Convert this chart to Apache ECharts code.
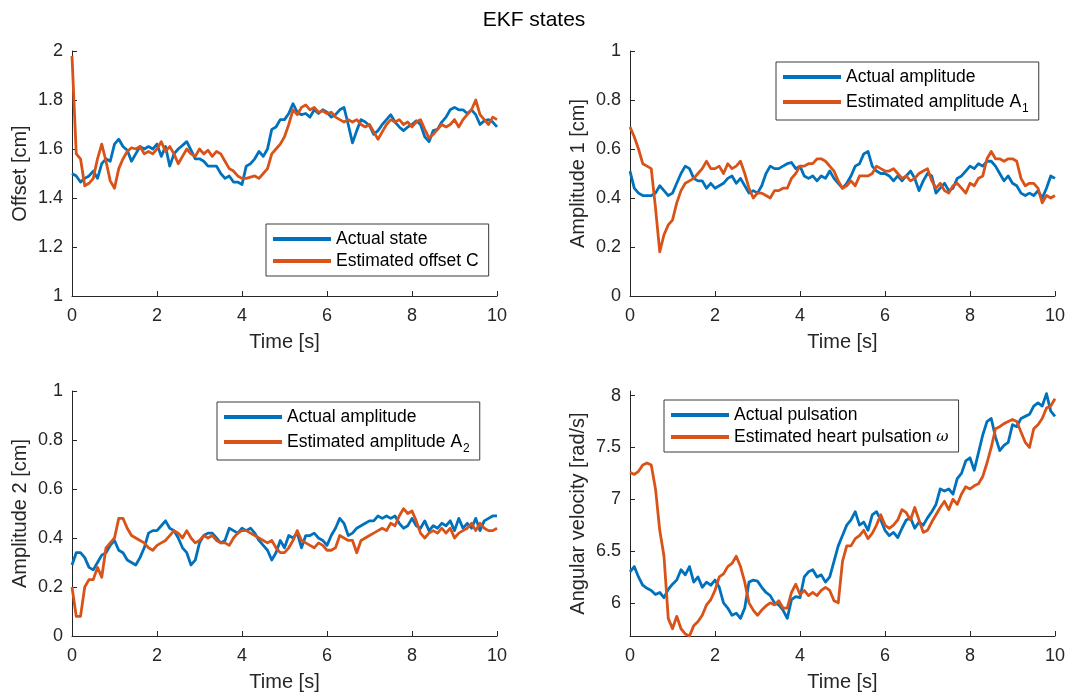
<!DOCTYPE html>
<html>
<head>
<meta charset="utf-8">
<title>EKF states</title>
<script src="https://cdn.jsdelivr.net/npm/echarts@6/dist/echarts.min.js"></script>
<style>
  html, body { margin: 0; padding: 0; background: #fff; }
  #chart { width: 1068px; height: 700px; }
</style>
</head>
<body>
<div id="chart"></div>
<script>
// Sampling instants (s), 0 to 10 s every 0.1 s
const time = [];
for (let i = 0; i <= 100; i++) time.push(i / 10);

// Offset C [cm]
const offsetActual = [
  1.50, 1.49, 1.465, 1.48, 1.49, 1.51, 1.48, 1.54, 1.56, 1.55,
  1.62, 1.64, 1.61, 1.595, 1.55, 1.58, 1.61, 1.60, 1.61, 1.60,
  1.62, 1.57, 1.61, 1.53, 1.58, 1.60, 1.615, 1.63, 1.595, 1.56,
  1.56, 1.55, 1.53, 1.53, 1.53, 1.50, 1.48, 1.49, 1.465, 1.465,
  1.455, 1.53, 1.54, 1.56, 1.59, 1.57, 1.60, 1.68, 1.69, 1.72,
  1.72, 1.745, 1.785, 1.75, 1.74, 1.745, 1.73, 1.76, 1.745, 1.76,
  1.75, 1.73, 1.74, 1.76, 1.77, 1.70, 1.625, 1.675, 1.72, 1.71,
  1.695, 1.66, 1.675, 1.70, 1.72, 1.74, 1.71, 1.69, 1.675, 1.69,
  1.70, 1.715, 1.70, 1.65, 1.63, 1.675, 1.68, 1.71, 1.73, 1.76,
  1.77, 1.76, 1.76, 1.745, 1.76, 1.74, 1.70, 1.715, 1.72, 1.71,
  1.69
];
const offsetEstimate = [
  1.98, 1.58, 1.56, 1.45, 1.46, 1.48, 1.56, 1.62, 1.55, 1.47,
  1.44, 1.52, 1.56, 1.59, 1.605, 1.60, 1.61, 1.58, 1.59, 1.58,
  1.60, 1.63, 1.59, 1.61, 1.58, 1.54, 1.57, 1.60, 1.58, 1.57,
  1.60, 1.58, 1.595, 1.57, 1.59, 1.58, 1.55, 1.52, 1.51, 1.49,
  1.48, 1.48, 1.485, 1.49, 1.48, 1.50, 1.52, 1.58, 1.60, 1.62,
  1.65, 1.70, 1.76, 1.74, 1.77, 1.78, 1.76, 1.77, 1.75, 1.755,
  1.745, 1.75, 1.73, 1.72, 1.71, 1.72, 1.71, 1.72, 1.70, 1.69,
  1.70, 1.67, 1.64, 1.67, 1.70, 1.72, 1.71, 1.72, 1.70, 1.71,
  1.69, 1.71, 1.72, 1.68, 1.645, 1.66, 1.68, 1.70, 1.69, 1.70,
  1.72, 1.69, 1.72, 1.74, 1.76, 1.80, 1.74, 1.72, 1.70, 1.73,
  1.72
];

// Amplitude A1 [cm]
const amp1Actual = [
  0.51, 0.44, 0.42, 0.41, 0.41, 0.41, 0.42, 0.45, 0.43, 0.41,
  0.42, 0.46, 0.50, 0.53, 0.52, 0.48, 0.47, 0.47, 0.44, 0.46,
  0.44, 0.45, 0.46, 0.48, 0.49, 0.46, 0.48, 0.45, 0.42, 0.43,
  0.42, 0.45, 0.50, 0.53, 0.52, 0.52, 0.53, 0.54, 0.545, 0.52,
  0.53, 0.49, 0.48, 0.49, 0.47, 0.49, 0.48, 0.51, 0.48, 0.46,
  0.44, 0.46, 0.49, 0.53, 0.54, 0.58, 0.59, 0.53, 0.51, 0.50,
  0.50, 0.49, 0.47, 0.49, 0.47, 0.49, 0.51, 0.48, 0.43, 0.47,
  0.50, 0.49, 0.42, 0.44, 0.46, 0.43, 0.44, 0.48, 0.49, 0.51,
  0.53, 0.52, 0.54, 0.53, 0.55, 0.55, 0.53, 0.50, 0.47, 0.49,
  0.46, 0.45, 0.42, 0.41, 0.42, 0.41, 0.43, 0.40, 0.44, 0.49,
  0.48
];
const amp1Estimate = [
  0.69, 0.65, 0.60, 0.54, 0.53, 0.52, 0.36, 0.18, 0.25, 0.29,
  0.31, 0.38, 0.43, 0.46, 0.47, 0.48, 0.50, 0.52, 0.55, 0.52,
  0.52, 0.53, 0.50, 0.54, 0.52, 0.53, 0.55, 0.50, 0.44, 0.40,
  0.42, 0.42, 0.41, 0.40, 0.43, 0.43, 0.44, 0.44, 0.48, 0.50,
  0.53, 0.53, 0.54, 0.54, 0.56, 0.56, 0.55, 0.53, 0.51, 0.47,
  0.44, 0.45, 0.47, 0.45, 0.49, 0.49, 0.49, 0.50, 0.53, 0.52,
  0.51, 0.51, 0.52, 0.50, 0.48, 0.49, 0.47, 0.48, 0.50, 0.51,
  0.52, 0.47, 0.44, 0.46, 0.43, 0.42, 0.45, 0.46, 0.44, 0.42,
  0.46, 0.45, 0.48, 0.49, 0.56, 0.59, 0.56, 0.56, 0.55, 0.56,
  0.56, 0.55, 0.48, 0.45, 0.46, 0.46, 0.44, 0.38, 0.41, 0.40,
  0.41
];

// Amplitude A2 [cm]
const amp2Actual = [
  0.29, 0.34, 0.34, 0.32, 0.28, 0.27, 0.30, 0.33, 0.34, 0.37,
  0.39, 0.35, 0.34, 0.31, 0.30, 0.29, 0.32, 0.36, 0.42, 0.43,
  0.43, 0.45, 0.47, 0.44, 0.43, 0.40, 0.36, 0.34, 0.29, 0.31,
  0.38, 0.41, 0.42, 0.42, 0.40, 0.38, 0.39, 0.44, 0.43, 0.42,
  0.44, 0.43, 0.44, 0.42, 0.39, 0.37, 0.35, 0.31, 0.34, 0.39,
  0.36, 0.41, 0.40, 0.42, 0.36, 0.41, 0.41, 0.42, 0.40, 0.39,
  0.37, 0.41, 0.44, 0.48, 0.46, 0.41, 0.42, 0.44, 0.45, 0.46,
  0.47, 0.47, 0.49, 0.48, 0.49, 0.48, 0.49, 0.46, 0.44, 0.45,
  0.48, 0.45, 0.44, 0.47, 0.43, 0.45, 0.44, 0.46, 0.45, 0.47,
  0.43, 0.48, 0.44, 0.46, 0.44, 0.48, 0.43, 0.47, 0.48, 0.49,
  0.49
];
const amp2Estimate = [
  0.20, 0.08, 0.08, 0.20, 0.23, 0.23, 0.28, 0.24, 0.36, 0.38,
  0.40, 0.48, 0.48, 0.44, 0.41, 0.40, 0.39, 0.38, 0.36, 0.35,
  0.37, 0.38, 0.39, 0.41, 0.43, 0.42, 0.40, 0.43, 0.40, 0.38,
  0.39, 0.41, 0.40, 0.41, 0.39, 0.38, 0.38, 0.37, 0.40, 0.42,
  0.43, 0.43, 0.42, 0.41, 0.40, 0.39, 0.38, 0.39, 0.36, 0.34,
  0.34, 0.36, 0.39, 0.43, 0.39, 0.38, 0.37, 0.36, 0.38, 0.37,
  0.35, 0.35, 0.36, 0.41, 0.40, 0.39, 0.39, 0.34, 0.39, 0.40,
  0.41, 0.42, 0.43, 0.44, 0.43, 0.46, 0.45, 0.49, 0.52, 0.50,
  0.51, 0.47, 0.42, 0.40, 0.42, 0.43, 0.42, 0.44, 0.42, 0.44,
  0.40, 0.42, 0.43, 0.44, 0.46, 0.43, 0.46, 0.44, 0.43, 0.43,
  0.44
];

// Heart pulsation omega [rad/s]
const pulsActual = [
  6.30, 6.35, 6.25, 6.17, 6.14, 6.12, 6.08, 6.10, 6.05, 6.13,
  6.18, 6.22, 6.32, 6.27, 6.35, 6.20, 6.25, 6.15, 6.20, 6.17,
  6.22, 6.15, 6.00, 5.95, 5.88, 5.90, 5.85, 5.95, 6.20, 6.22,
  6.21, 6.15, 6.10, 6.07, 6.00, 5.98, 5.93, 5.85, 6.03, 6.06,
  6.05, 6.25, 6.30, 6.32, 6.25, 6.27, 6.20, 6.25, 6.40, 6.55,
  6.65, 6.75, 6.80, 6.88, 6.75, 6.78, 6.70, 6.85, 6.88, 6.80,
  6.70, 6.65, 6.68, 6.63, 6.72, 6.80, 6.82, 6.72, 6.78, 6.75,
  6.82, 6.88, 6.95, 7.10, 7.08, 7.10, 7.05, 7.20, 7.25, 7.37,
  7.40, 7.28, 7.45, 7.62, 7.75, 7.78, 7.60, 7.47, 7.52, 7.55,
  7.72, 7.70, 7.78, 7.80, 7.82, 7.90, 7.93, 7.90, 8.02, 7.85,
  7.80
];
const pulsEstimate = [
  7.26, 7.24, 7.27, 7.33, 7.35, 7.33, 7.10, 6.70, 6.45, 5.85,
  5.75, 5.87, 5.75, 5.70, 5.68, 5.78, 5.82, 5.88, 5.98, 6.03,
  6.12, 6.25, 6.28, 6.35, 6.38, 6.45, 6.35, 6.20, 6.00, 5.93,
  5.88, 5.93, 5.97, 6.00, 5.98, 6.02, 5.95, 5.95, 6.10, 6.18,
  6.08, 6.12, 6.07, 6.10, 6.07, 6.12, 6.15, 6.12, 6.02, 6.00,
  6.40, 6.55, 6.55, 6.62, 6.65, 6.70, 6.62, 6.67, 6.75, 6.85,
  6.75, 6.72, 6.75, 6.80, 6.90, 6.87, 6.80, 6.92, 6.80, 6.68,
  6.70, 6.78, 6.85, 6.92, 6.98, 6.90, 7.00, 6.95, 7.05, 7.12,
  7.10, 7.13, 7.15, 7.22, 7.35, 7.50, 7.68, 7.70, 7.73, 7.75,
  7.77, 7.75, 7.65, 7.55, 7.50, 7.68, 7.72, 7.78, 7.88, 7.90,
  7.97
];

// Tick labels of the pulsation axis
const pulsTicks = [6, 6.5, 7, 7.5, 8];

const FONT = 'Liberation Sans, Helvetica, Arial, sans-serif';
const AXIS = '#262626';
const BLUE = '#0072BD';
const ORANGE = '#D95319';

const panels = [
  { left: 72,  top: 51,  yName: 'Offset [cm]', yMin: 1, yMax: 2, yInt: 0.2,
    names: ['Actual state', 'Estimated offset C'], a: offsetActual, e: offsetEstimate,
    legend: { left: 266, top: 224 } },
  { left: 630, top: 51,  yName: 'Amplitude 1 [cm]', yMin: 0, yMax: 1, yInt: 0.2,
    names: ['Actual amplitude', 'Estimated amplitude A_1'], a: amp1Actual, e: amp1Estimate,
    legend: { left: 776, top: 62 } },
  { left: 72,  top: 391, yName: 'Amplitude 2 [cm]', yMin: 0, yMax: 1, yInt: 0.2,
    names: ['Actual amplitude', 'Estimated amplitude A_2'], a: amp2Actual, e: amp2Estimate,
    legend: { left: 217, top: 402 } },
  { left: 630, top: 391, yName: 'Angular velocity [rad/s]', yMin: 5.68, yMax: 8.045, ticks: pulsTicks,
    names: ['Actual pulsation', 'Estimated heart pulsation ω'], a: pulsActual, e: pulsEstimate,
    legend: { left: 664, top: 400 } }
];

const grid = [], xAxis = [], yAxis = [], series = [], legend = [];

panels.forEach((p, i) => {
  grid.push({ left: p.left, top: p.top, width: 425, height: 245, containLabel: false });

  xAxis.push({
    type: 'value', gridIndex: i, min: 0, max: 10, interval: 2,
    name: 'Time [s]', nameLocation: 'middle', nameGap: 36,
    nameTextStyle: { fontFamily: FONT, fontSize: 20, color: AXIS },
    axisLine: { show: true, onZero: false, lineStyle: { color: AXIS, width: 1 } },
    axisTick: { show: true, inside: true, length: 5, lineStyle: { color: AXIS } },
    axisLabel: { fontFamily: FONT, fontSize: 18, color: AXIS, margin: 11 },
    splitLine: { show: false }
  });

  const y = {
    type: 'value', gridIndex: i, min: p.yMin, max: p.yMax,
    name: p.yName, nameLocation: 'middle', nameGap: 42, nameRotate: 90,
    nameTextStyle: { fontFamily: FONT, fontSize: 20, color: AXIS },
    axisLine: { show: true, onZero: false, lineStyle: { color: AXIS, width: 1 } },
    axisTick: { show: true, inside: true, length: 5, lineStyle: { color: AXIS } },
    axisLabel: { fontFamily: FONT, fontSize: 18, color: AXIS, margin: 9 },
    splitLine: { show: false }
  };
  if (p.ticks) {
    y.axisTick.customValues = p.ticks;
    y.axisLabel.customValues = p.ticks;
  } else {
    y.interval = p.yInt;
  }
  yAxis.push(y);

  [[p.names[0], p.a, BLUE], [p.names[1], p.e, ORANGE]].forEach(([name, vals, color]) => {
    series.push({
      type: 'line', name, xAxisIndex: i, yAxisIndex: i,
      data: time.map((t, k) => [t, vals[k]]),
      showSymbol: false, symbol: 'none', clip: true,
      lineStyle: { color, width: 2.8, join: 'round' },
      itemStyle: { color },
      emphasis: { disabled: true }
    });
  });

  legend.push({
    orient: 'vertical', left: p.legend.left, top: p.legend.top,
    data: p.names, selectedMode: false, icon: 'rect',
    itemWidth: 58, itemHeight: 3.8, itemGap: 2,
    padding: [5, 10, 5, 7],
    borderColor: '#3a3a3a', borderWidth: 1, backgroundColor: '#fff',
    textStyle: {
      fontFamily: FONT, fontSize: 17.5, color: '#000', lineHeight: 20,
      rich: {
        s: { fontFamily: FONT, fontSize: 12, color: '#000', verticalAlign: 'bottom', lineHeight: 26, padding: [0, 0, 0, 1] },
        w: { fontFamily: 'DejaVu Serif', fontStyle: 'italic', fontSize: 15, color: '#000' }
      }
    },
    formatter: name => name.replace(/_(\d)$/, '{s|$1}').replace('ω', '{w|ω}')
  });
});

const chart = echarts.init(document.getElementById('chart'), null, { renderer: 'canvas' });
chart.setOption({
  animation: false,
  backgroundColor: '#fff',
  title: {
    text: 'EKF states', left: 'center', top: 5,
    textStyle: { fontFamily: FONT, fontSize: 21, fontWeight: 'normal', color: '#000' }
  },
  grid, xAxis, yAxis, series, legend
});
</script>
</body>
</html>
